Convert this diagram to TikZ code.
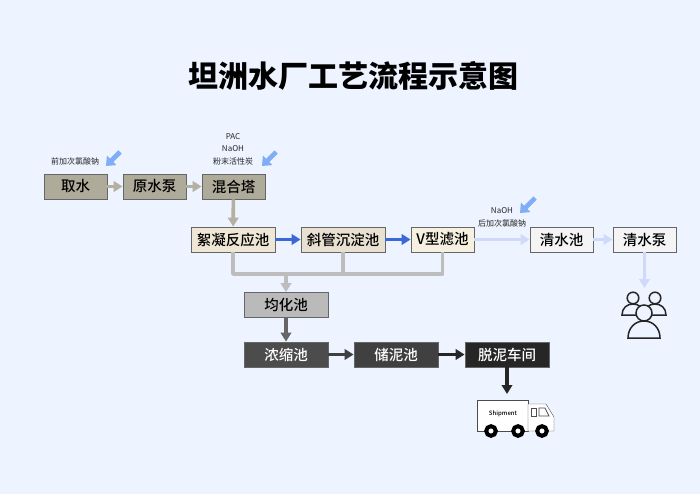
\documentclass[tikz,border=0pt]{standalone}
\usepackage{fontspec}
\setmainfont{Noto Sans CJK SC}
\newfontfamily\boxfont{Noto Sans CJK SC Medium}
\newfontfamily\titlefont{Noto Sans CJK SC Black}
\usetikzlibrary{arrows.meta}
\definecolor{pagebg}{HTML}{EDF3FF}
\definecolor{rawfill}{HTML}{AFAB9B}
\definecolor{rawpipe}{HTML}{B4B0A2}
\definecolor{flocfill}{HTML}{EEE7D6}
\definecolor{settlefill}{HTML}{E8E1D2}
\definecolor{filterfill}{HTML}{F5F0DF}
\definecolor{clearfill}{HTML}{F4F4F4}
\definecolor{bluepipe}{HTML}{3A68D8}
\definecolor{palepipe}{HTML}{CFDAFB}
\definecolor{dosepipe}{HTML}{80AEF5}
\definecolor{sludgepipe}{HTML}{BDBDBD}
\tikzset{
  box/.style={draw=black!60, line width=.8pt, inner sep=0pt, minimum height=25pt, font=\boxfont\fontsize{14.5}{16}\selectfont},
  shortbox/.style={box, minimum width=63pt},
  longbox/.style={box, minimum width=84pt},
  pipe/.style={line width=3.6pt, -{Triangle[length=9pt,width=10.5pt]}},
  dose/.style={line width=4.6pt, dosepipe, -{Triangle[length=8pt,width=13pt]}},
  note/.style={inner sep=0pt, font=\fontsize{8}{9}\selectfont, text=black!85}
}
\begin{document}
\begin{tikzpicture}[x=1pt,y=-1pt]
        \useasboundingbox[fill=pagebg] (0,0) rectangle (700,494);
        \node[font=\titlefont\fontsize{30}{34}\selectfont] (title) at (353.5,76) {坦洲水厂工艺流程示意图};

        \node[shortbox, fill=rawfill] (intake) at (75.5,186.5) {取水};
        \node[shortbox, fill=rawfill] (rawpump) at (154.5,186.5) {原水泵};
        \node[shortbox, fill=rawfill] (mixer) at (233.5,186.5) {混合塔};

        \node[longbox, fill=flocfill] (floc) at (233,239.5) {絮凝反应池};
        \node[longbox, fill=settlefill] (settle) at (343,239.5) {斜管沉淀池};
        \node[shortbox, fill=filterfill] (filter) at (442.5,239.5) {V型滤池};
        \node[shortbox, fill=clearfill] (clearpool) at (561.5,239.5) {清水池};
        \node[shortbox, fill=clearfill] (clearpump) at (644.5,239.5) {清水泵};

        \node[longbox, fill=black!27] (balance) at (286,305) {均化池};
        \node[longbox, fill=black!70, text=white] (thick) at (286,354.5) {浓缩池};
        \node[longbox, fill=black!75, text=white] (store) at (396,354.5) {储泥池};
        \node[longbox, fill=black!85, text=white] (dewater) at (507,354.5) {脱泥车间};

        \node[note] (prechlor) at (75,161) {前加次氯酸钠};
        \node[note] (pac) at (233,137) {PAC};
        \node[note] (naoha) at (233,149) {NaOH};
        \node[note] (carbon) at (233,161) {粉末活性炭};
        \node[note] (naohb) at (502,211) {NaOH};
        \node[note] (postchlor) at (502,223) {后加次氯酸钠};

        \coordinate (merge) at (286,274);
        \coordinate (truckin) at (507,394);
        \coordinate (peoplein) at (644.5,288);

        \draw[pipe, rawpipe] (intake) -- (rawpump);
        \draw[pipe, rawpipe] (rawpump) -- (mixer);
        \draw[pipe, rawpipe] (mixer) -- (floc);
        \draw[pipe, bluepipe] (floc) -- (settle);
        \draw[pipe, bluepipe] (settle) -- (filter);
        \draw[pipe, palepipe] (filter) -- (clearpool);
        \draw[pipe, palepipe] (clearpool) -- (clearpump);
        \draw[pipe, palepipe] (clearpump) -- (peoplein);

        \draw[line width=3.6pt, sludgepipe, line join=round] (floc.south) -- (floc.south |- merge) -- (filter.south |- merge) -- (filter.south);
        \draw[line width=3.6pt, sludgepipe] (settle.south) -- (settle.south |- merge);
        \draw[pipe, sludgepipe] (merge) -- (balance);
        \draw[pipe, black!60] (balance) -- (thick);
        \draw[pipe, black!75] (thick) -- (store);
        \draw[pipe, black!85] (store) -- (dewater);
        \draw[pipe, black!85] (dewater) -- (truckin);

        % dosing arrows
        \draw[dose] (120,152) -- (106,166);
        \draw[dose] (276,152) -- (262,166);
        \draw[dose] (535,198) -- (520,213);

        % people
        \draw[line width=1.5pt, black!85, fill=pagebg] (622,315) .. controls (622,308) and (627,304) .. (633,304) .. controls (639,304) and (644,308) .. (644,315) -- cycle;
        \draw[line width=1.5pt, black!85, fill=pagebg] (644,315) .. controls (644,308) and (649,304) .. (655,304) .. controls (661,304) and (666,308) .. (666,315) -- cycle;
        \draw[line width=1.5pt, black!85, fill=pagebg] (633,298) circle (5.8pt);
        \draw[line width=1.5pt, black!85, fill=pagebg] (655,298) circle (5.8pt);
        \draw[line width=1.5pt, black!85, fill=pagebg] (628,338) .. controls (628,328) and (635,321) .. (644,321) .. controls (653,321) and (660,328) .. (660,338) -- cycle;
        \draw[line width=1.5pt, black!85, fill=pagebg] (644,313) circle (8pt);

        % truck
        \draw[black!70, fill=white] (477,400) rectangle (528,431);
        \draw[black!70, fill=white] (528,404) -- (546,404) -- (554,417) -- (554,431) -- (528,431) -- cycle;
        \draw[black!70, line width=.7pt] (531,408) rectangle (536,416);
        \draw[black!70, line width=.7pt] (539,408) -- (545,408) -- (549,416) -- (539,416) -- cycle;
        \node[inner sep=0pt, font=\boxfont\fontsize{6}{7}\selectfont] (shipment) at (503,414) {Shipment};
        \foreach \wx in {491,518,542} {
          \draw[black, fill=white, line width=4pt] (\wx,431) circle (4.8pt);
        }
\end{tikzpicture}
\end{document}
